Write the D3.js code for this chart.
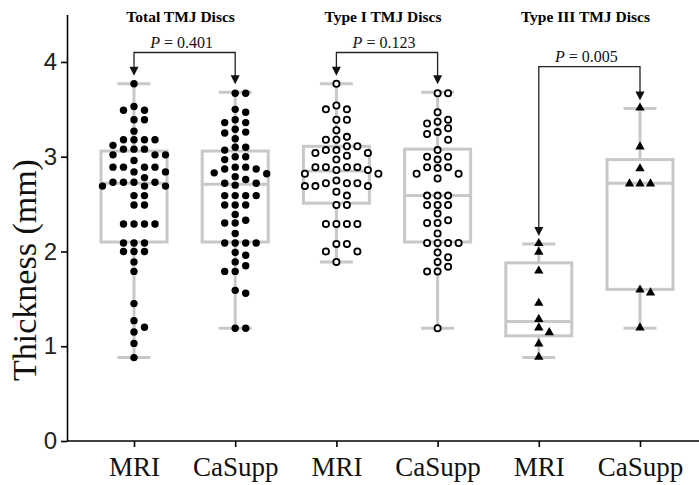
<!DOCTYPE html>
<html>
<head>
<meta charset="utf-8">
<script src="https://cdn.jsdelivr.net/npm/d3@7"></script>
<style>
  body { margin: 0; background: #fff; }
  svg { display: block; }
</style>
</head>
<body>
<script>
// Disc thickness, MRI vs CaSupp, by disc type

const groupTitles = ["Total TMJ Discs", "Type I TMJ Discs", "Type III TMJ Discs"];
const categories = ["totalMRI", "totalCa", "typeIMRI", "typeICa", "typeIIIMRI", "typeIIICa"];
const tickLabels = ["MRI", "CaSupp", "MRI", "CaSupp", "MRI", "CaSupp"];
const yTicks = [0, 1, 2, 3, 4];
const pValues = ["0.401", "0.123", "0.005"];
const bracketLevels = [4.1, 4.1, 3.95];

// box stats
const boxMin = [0.88, 1.19, 1.89, 1.19, 0.88, 1.19];
const boxQ1 = [2.10, 2.10, 2.51, 2.10, 1.11, 1.60];
const boxMedian = [2.72, 2.71, 2.85, 2.59, 1.26, 2.72];
const boxQ3 = [3.06, 3.06, 3.11, 3.08, 1.88, 2.97];
const boxMax = [3.77, 3.68, 3.77, 3.68, 2.08, 3.51];

// individual discs
const totalMRI = [3.77, 3.53, 3.49, 3.49, 3.39, 3.39, 3.27, 3.18, 3.18, 3.18, 3.18, 3.12,
  3.08, 3.08, 3.08, 3.02, 3.02, 3.02, 2.96, 2.89, 2.89, 2.89, 2.89, 2.84, 2.84, 2.78,
  2.73, 2.73, 2.73, 2.73, 2.69, 2.69, 2.69, 2.59, 2.59, 2.49, 2.49, 2.29, 2.29, 2.29, 2.29,
  2.09, 2.09, 2.09, 2.00, 2.00, 2.00, 1.89, 1.79, 1.45, 1.27, 1.20, 1.15, 1.03, 0.88];
const totalCa = [3.67, 3.67, 3.50, 3.47, 3.39, 3.36, 3.36, 3.29, 3.26, 3.25, 3.19,
  3.10, 3.10, 3.07, 3.00, 3.00, 2.97, 2.89, 2.89, 2.87, 2.87, 2.83, 2.82, 2.79, 2.76,
  2.72, 2.72, 2.70, 2.59, 2.59, 2.59, 2.59, 2.49, 2.49, 2.49, 2.39, 2.33, 2.30, 2.30, 2.19,
  2.09, 2.09, 2.09, 2.09, 1.99, 1.96, 1.89, 1.85, 1.79, 1.79, 1.59, 1.56, 1.19, 1.19];
const typeIMRI = [3.77, 3.54, 3.50, 3.50, 3.39, 3.39, 3.28, 3.21, 3.18, 3.18,
  3.11, 3.11, 3.07, 3.07, 3.04, 3.04, 3.01, 2.97, 2.89, 2.89, 2.89, 2.89, 2.86, 2.86,
  2.82, 2.82, 2.75, 2.72, 2.72, 2.72, 2.69, 2.69, 2.69, 2.63, 2.59, 2.49, 2.49,
  2.29, 2.29, 2.29, 2.29, 2.08, 2.08, 2.00, 2.00, 1.89];
const typeICa = [3.67, 3.67, 3.47, 3.39, 3.37, 3.35, 3.30, 3.26, 3.24, 3.18,
  3.07, 3.00, 3.00, 2.97, 2.89, 2.89, 2.88, 2.82, 2.82, 2.77, 2.59, 2.59, 2.59,
  2.49, 2.49, 2.49, 2.40, 2.33, 2.30, 2.30, 2.19, 2.09, 2.09, 2.09, 2.09,
  1.99, 1.94, 1.89, 1.84, 1.79, 1.79, 1.19];
const typeIIIMRI = [2.08, 1.99, 1.79, 1.45, 1.28, 1.19, 1.14, 1.02, 0.88];
const typeIIICa = [3.51, 3.10, 2.87, 2.71, 2.71, 2.71, 1.59, 1.56, 1.19];

const pointSets = [totalMRI, totalCa, typeIMRI, typeICa, typeIIIMRI, typeIIICa];
const markers = ["filled", "filled", "open", "open", "triangle", "triangle"];

const W = 699, H = 485;
const axisX = 67;
const boxW = 66, capW = 33;
const grey = "#c8c8c8";
const serif = "'Times New Roman', 'Liberation Serif', serif";
const sans = "Arial, 'Liberation Sans', sans-serif";

const svg = d3.select("body").append("svg")
  .attr("width", W)
  .attr("height", H);

const y = d3.scaleLinear().domain([0, 4.5]).range([441, 14.6]);
const x = d3.scalePoint().domain(categories).range([134, 640]);

// Boxes and whiskers
const boxes = svg.append("g")
  .attr("fill", "none")
  .attr("stroke", grey)
  .attr("stroke-width", 3);

categories.forEach((c, i) => {
  const cx = x(c);
  boxes.append("line").attr("x1", cx).attr("x2", cx)
    .attr("y1", y(boxQ3[i])).attr("y2", y(boxMax[i]));
  boxes.append("line").attr("x1", cx).attr("x2", cx)
    .attr("y1", y(boxQ1[i])).attr("y2", y(boxMin[i]));
  boxes.append("line").attr("x1", cx - capW / 2).attr("x2", cx + capW / 2)
    .attr("y1", y(boxMax[i])).attr("y2", y(boxMax[i]));
  boxes.append("line").attr("x1", cx - capW / 2).attr("x2", cx + capW / 2)
    .attr("y1", y(boxMin[i])).attr("y2", y(boxMin[i]));
  boxes.append("rect")
    .attr("x", cx - boxW / 2)
    .attr("y", y(boxQ3[i]))
    .attr("width", boxW)
    .attr("height", y(boxQ1[i]) - y(boxQ3[i]));
  boxes.append("line").attr("x1", cx - boxW / 2).attr("x2", cx + boxW / 2)
    .attr("y1", y(boxMedian[i])).attr("y2", y(boxMedian[i]));
});

// Scatter layout: discrete horizontal slots, avoid vertical overlap in a slot
const slotW = 10.5, minGap = 7.6;
const slotOrder = [0, 1, -1, 2, -2, 3, -3, 4, -4];

function layout(values) {
  const placed = [];
  values.slice().sort((a, b) => b - a).forEach((v) => {
    const py = y(v);
    for (const k of slotOrder) {
      const clash = placed.some((p) => p.k === k && Math.abs(p.py - py) < minGap);
      if (!clash) { placed.push({ k: k, py: py, v: v }); break; }
    }
  });
  return placed;
}

const tri = d3.symbol().type(d3.symbolTriangle).size(38);

categories.forEach((c, i) => {
  const pts = layout(pointSets[i]);
  const g = svg.append("g");
  const m = markers[i];
  if (m === "triangle") {
    g.selectAll("path").data(pts).join("path")
      .attr("d", tri)
      .attr("transform", (d) => "translate(" + (x(c) + d.k * slotW) + "," + (d.py - 0.5) + ")")
      .attr("fill", "#000");
  } else {
    g.selectAll("circle").data(pts).join("circle")
      .attr("cx", (d) => x(c) + d.k * slotW)
      .attr("cy", (d) => d.py)
      .attr("r", m === "filled" ? 3.7 : 3.1)
      .attr("fill", m === "filled" ? "#000" : "#fff")
      .attr("stroke", "#000")
      .attr("stroke-width", m === "filled" ? 0 : 1.8);
  }
});

// Axes
const yAxis = svg.append("g")
  .attr("transform", "translate(" + axisX + ",0)")
  .call(d3.axisLeft(y).tickValues(yTicks).tickFormat(d3.format("d"))
    .tickSize(6).tickSizeOuter(0).tickPadding(4));
yAxis.select(".domain").attr("stroke-width", 1.6);
yAxis.selectAll(".tick line").attr("stroke-width", 1.6);
yAxis.selectAll("text")
  .style("font-family", sans)
  .style("font-size", "24px")
  .attr("fill", "#222");

const xAxis = svg.append("g")
  .attr("transform", "translate(0," + y(0) + ")")
  .call(d3.axisBottom(x).tickSize(6).tickSizeOuter(0).tickPadding(10)
    .tickFormat((d, i) => tickLabels[i]));
xAxis.select(".domain").remove();
xAxis.append("line")
  .attr("x1", axisX).attr("x2", W)
  .attr("stroke", "#000").attr("stroke-width", 1.6);
xAxis.selectAll(".tick line").attr("stroke-width", 1.6);
xAxis.selectAll("text")
  .style("font-family", serif)
  .style("font-size", "27px")
  .attr("fill", "#111");

svg.append("text")
  .attr("transform", "translate(36,270) rotate(-90)")
  .attr("text-anchor", "middle")
  .style("font-family", serif)
  .style("font-size", "34px")
  .attr("fill", "#111")
  .text("Thickness (mm)");

// Group titles and comparison brackets
groupTitles.forEach((t, j) => {
  const a = categories[2 * j], b = categories[2 * j + 1];
  const mid = (x(a) + x(b)) / 2;
  const by = y(bracketLevels[j]);
  const tipA = y(boxMax[2 * j]) - 8;
  const tipB = y(boxMax[2 * j + 1]) - 8;

  svg.append("text")
    .attr("x", mid - 4)
    .attr("y", 22)
    .attr("text-anchor", "middle")
    .style("font-family", serif)
    .style("font-size", "15.5px")
    .style("font-weight", "bold")
    .text(t);

  svg.append("path")
    .attr("d", "M" + x(a) + "," + (tipA - 8) + "V" + by + "H" + x(b) + "V" + (tipB - 8))
    .attr("fill", "none")
    .attr("stroke", "#222")
    .attr("stroke-width", 1.3);

  [[x(a), tipA], [x(b), tipB]].forEach(([ax, ay]) => {
    svg.append("path")
      .attr("d", "M" + (ax - 4.5) + "," + (ay - 9) + "L" + (ax + 4.5) + "," + (ay - 9) + "L" + ax + "," + ay + "Z")
      .attr("fill", "#111");
  });

  const pt = svg.append("text")
    .attr("x", mid - 3)
    .attr("y", by - 5)
    .attr("text-anchor", "middle")
    .style("font-family", serif)
    .style("font-size", "16px")
    .attr("fill", "#111");
  pt.append("tspan").style("font-style", "italic").text("P");
  pt.append("tspan").text(" = " + pValues[j]);
});
</script>
</body>
</html>
